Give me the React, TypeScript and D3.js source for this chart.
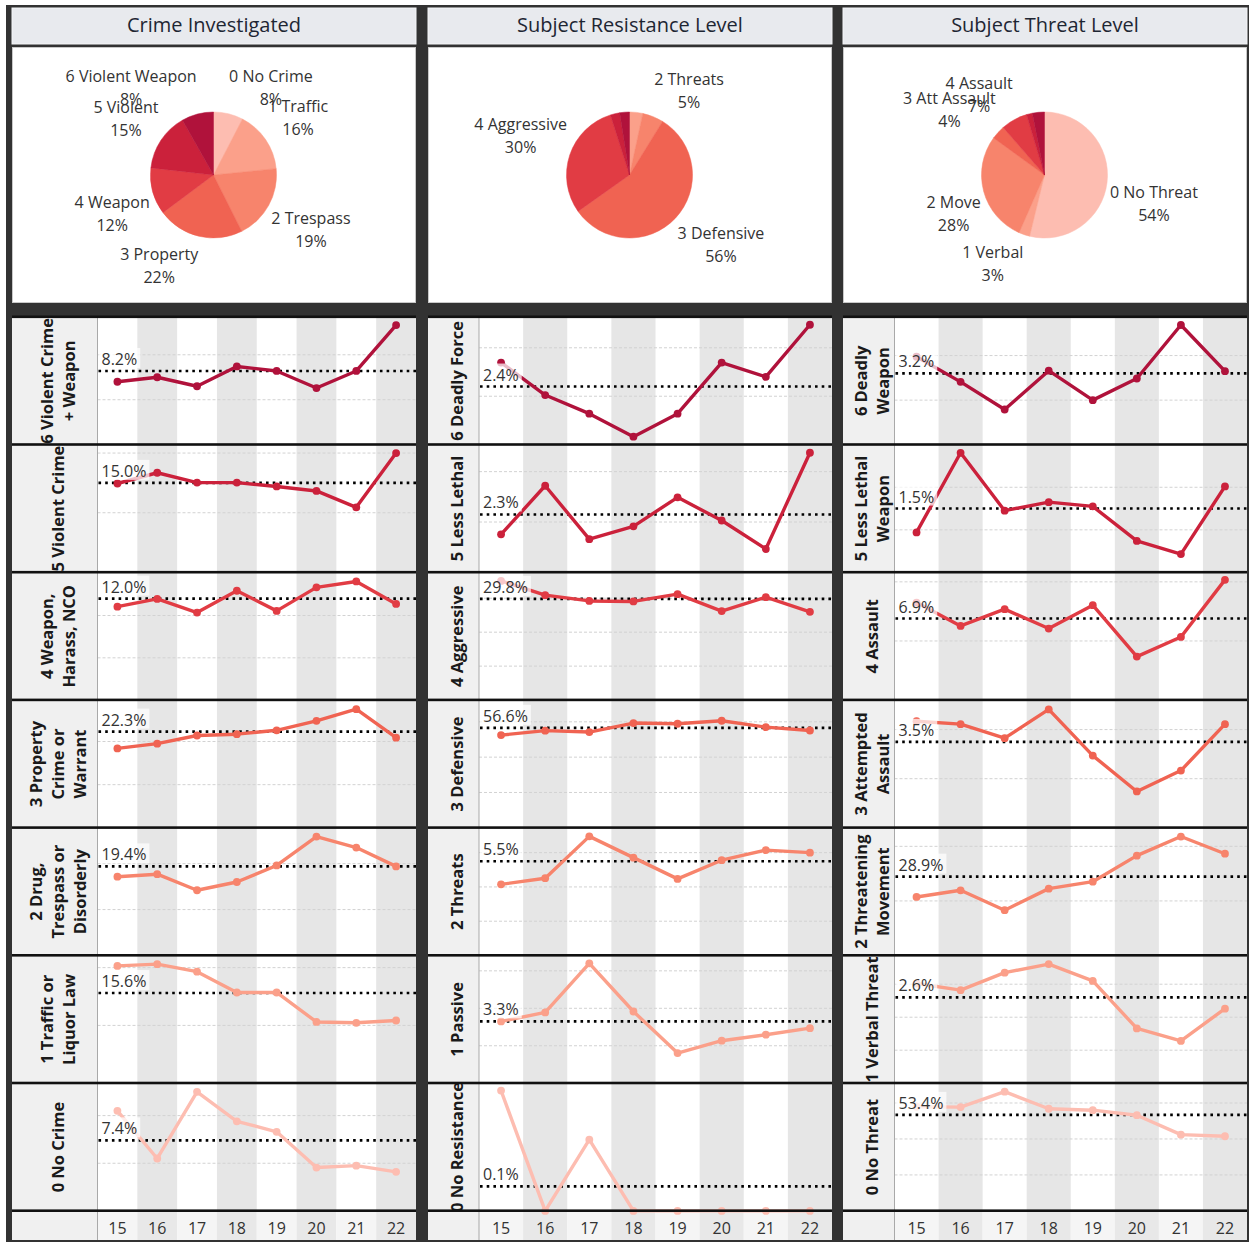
import React, { useMemo } from 'react';
import * as d3 from 'd3';

// ---------------- DATA ----------------
const years = ['15', '16', '17', '18', '19', '20', '21', '22'];
// colour per level 0..6
const levelColors = ['#fdbdb1', '#fba08a', '#f7846c', '#f06352', '#e13c44', '#cb213b', '#b0123b'];

// Column 1 : Crime Investigated
const crimeTitle = 'Crime Investigated';
const crimePieNames = ['0 No Crime', '1 Traffic', '2 Trespass', '3 Property', '4 Weapon', '5 Violent', '6 Violent Weapon'];
const crimePieValues = [7.6, 15.8, 19.2, 22.2, 12.0, 15.0, 8.2];
const crimePieLabeled = [0, 1, 2, 3, 4, 5, 6];
const crimeRowLabels = [
  ['6 Violent Crime', '+ Weapon'],
  ['5 Violent Crime'],
  ['4 Weapon,', 'Harass, NCO'],
  ['3 Property', 'Crime or', 'Warrant'],
  ['2 Drug,', 'Trespass or', 'Disorderly'],
  ['1 Traffic or', 'Liquor Law'],
  ['0 No Crime'],
];
const crimeAverages = [8.2, 15.0, 12.0, 22.3, 19.4, 15.6, 7.4];
const crimeSeries = [
  [7.0, 7.5, 6.5, 8.7, 8.2, 6.3, 8.2, 13.3],
  [14.9, 16.7, 15.05, 15.05, 14.4, 13.65, 10.9, 20.0],
  [11.05, 11.96, 10.35, 12.93, 10.55, 13.33, 14.03, 11.37],
  [18.4, 19.5, 21.4, 21.7, 22.6, 24.8, 27.5, 20.9],
  [17.15, 17.7, 14.2, 16.0, 19.6, 25.9, 23.5, 19.4],
  [20.3, 20.6, 19.3, 15.7, 15.7, 10.6, 10.45, 10.85],
  [10.5, 5.5, 12.5, 9.4, 8.3, 4.55, 4.75, 4.1],
];
const crimeAxisMax = [14.2, 21.4, 15.1, 29.6, 27.8, 22.1, 13.4];
const crimeGridTicks = [[5, 10], [10, 20], [5, 10], [10, 20], [10, 20], [10, 20], [5, 10]];

// Column 2 : Subject Resistance Level
const resistTitle = 'Subject Resistance Level';
const resistPieNames = ['0 No Resistance', '1 Passive', '2 Threats', '3 Defensive', '4 Aggressive', '5 Less Lethal', '6 Deadly Force'];
const resistPieValues = [0.1, 3.3, 5.4, 56.4, 29.9, 2.4, 2.5];
const resistPieLabeled = [2, 3, 4];
const resistRowLabels = [
  ['6 Deadly Force'],
  ['5 Less Lethal'],
  ['4 Aggressive'],
  ['3 Defensive'],
  ['2 Threats'],
  ['1 Passive'],
  ['0 No Resistance'],
];
const resistAverages = [2.4, 2.3, 29.8, 56.6, 5.5, 3.3, 0.1];
const resistSeries = [
  [3.39, 2.05, 1.28, 0.33, 1.28, 3.39, 2.8, 4.95],
  [1.51, 3.44, 1.32, 1.83, 2.98, 2.06, 0.93, 4.75],
  [35.1, 30.9, 29.2, 29.05, 31.2, 26.2, 30.3, 26.0],
  [52.5, 55.0, 54.2, 59.3, 58.9, 60.6, 57.0, 55.1],
  [4.15, 4.51, 6.95, 5.71, 4.47, 5.56, 6.15, 6.0],
  [3.3, 3.78, 6.4, 3.83, 1.61, 2.27, 2.59, 2.94],
  [0.49, 0, 0.29, 0, 0, 0, 0, 0],
];
const resistAxisMax = [5.27, 5.07, 37.6, 72.3, 7.45, 6.82, 0.52];
const resistGridTicks = [[2, 4], [2, 4], [10, 20, 30], [20, 40, 60], [2, 4, 6], [2, 4, 6], []];

// Column 3 : Subject Threat Level
const threatTitle = 'Subject Threat Level';
const threatPieNames = ['0 No Threat', '1 Verbal', '2 Move', '3 Att Assault', '4 Assault', '5 Less Lethal', '6 Deadly'];
const threatPieValues = [53.8, 2.8, 28.4, 3.6, 6.8, 1.5, 3.1];
const threatPieLabeled = [0, 1, 2, 3, 4];
const threatRowLabels = [
  ['6 Deadly', 'Weapon'],
  ['5 Less Lethal', 'Weapon'],
  ['4 Assault'],
  ['3 Attempted', 'Assault'],
  ['2 Threatening', 'Movement'],
  ['1 Verbal Threat'],
  ['0 No Threat'],
];
const threatAverages = [3.2, 1.5, 6.9, 3.5, 28.9, 2.6, 53.4];
const threatSeries = [
  [3.95, 2.82, 1.58, 3.32, 2.0, 2.97, 5.37, 3.3],
  [0.94, 2.81, 1.45, 1.65, 1.55, 0.74, 0.43, 2.02],
  [8.25, 6.27, 7.69, 6.05, 8.03, 3.68, 5.34, 10.17],
  [4.34, 4.22, 3.65, 4.82, 2.94, 1.48, 2.33, 4.22],
  [21.45, 23.9, 16.6, 24.5, 27.05, 36.6, 43.6, 37.3],
  [3.02, 2.82, 3.35, 3.61, 3.1, 1.66, 1.28, 2.26],
  [57.9, 57.7, 66.3, 56.8, 56.0, 53.2, 42.4, 41.5],
];
const threatAxisMax = [5.73, 3.0, 10.8, 5.2, 46.8, 3.87, 71];
const threatGridTicks = [[2, 4], [1, 2], [5, 10], [2, 4], [20, 40], [1, 2, 3], [20, 40, 60]];

// ---------------- LAYOUT ----------------
const W = 1249;
const H = 1242;
const FONT = "'Open Sans', 'Noto Sans', sans-serif";
const colLefts = [12, 428, 843];
const colWidth = 404;
const labelWidths = [85.5, 51, 51.5];
const headerTop = 8;
const headerBottom = 44;
const pieTop = 47;
const pieBottom = 303;
const pieCy = 175;
const pieR = 63;
const rowsTop = 317;
const rowH = 127.7;
const axisBottom = 1240;

type Col = {
  title: string;
  pieNames: string[];
  pieValues: number[];
  pieLabeled: number[];
  rowLabels: string[][];
  averages: number[];
  series: number[][];
  axisMax: number[];
  grid: number[][];
};

const columns: Col[] = [
  { title: crimeTitle, pieNames: crimePieNames, pieValues: crimePieValues, pieLabeled: crimePieLabeled, rowLabels: crimeRowLabels, averages: crimeAverages, series: crimeSeries, axisMax: crimeAxisMax, grid: crimeGridTicks },
  { title: resistTitle, pieNames: resistPieNames, pieValues: resistPieValues, pieLabeled: resistPieLabeled, rowLabels: resistRowLabels, averages: resistAverages, series: resistSeries, axisMax: resistAxisMax, grid: resistGridTicks },
  { title: threatTitle, pieNames: threatPieNames, pieValues: threatPieValues, pieLabeled: threatPieLabeled, rowLabels: threatRowLabels, averages: threatAverages, series: threatSeries, axisMax: threatAxisMax, grid: threatGridTicks },
];

function useMeasure() {
  return useMemo(() => {
    const ctx = document.createElement('canvas').getContext('2d');
    return (t: string, font: string) => {
      if (!ctx) return t.length * 8.5;
      ctx.font = font;
      return ctx.measureText(t).width;
    };
  }, []);
}

function Column({ ci, col, measure }: { ci: number; col: Col; measure: (t: string, f: string) => number }) {
  const x0 = colLefts[ci];
  const x1 = x0 + colWidth;
  const plotLeft = x0 + labelWidths[ci];
  const xb = d3.scaleBand<string>().domain(years).range([plotLeft, x1]).padding(0);
  const bw = xb.bandwidth();
  const cx = x0 + 201.5;
  const pieArcs = d3.pie<number>().sort(null).value((d) => d)(col.pieValues);
  const arcGen = d3.arc<d3.PieArcDatum<number>>().innerRadius(0).outerRadius(pieR);
  const nRows = col.series.length;
  const rowsBottom = rowsTop + nRows * rowH;
  const pieFont = `16px ${FONT}`;

  return (
    <g>
      {/* header */}
      <rect x={x0} y={headerTop} width={colWidth} height={headerBottom - headerTop} fill="#e8eaee" stroke="#f4f5f7" strokeWidth={1} />
      <text x={x0 + colWidth / 2} y={32} textAnchor="middle" fontFamily={FONT} fontSize={20} fill="#1e2633">
        {col.title}
      </text>

      {/* pie panel */}
      <rect x={x0 + 0.5} y={pieTop + 0.5} width={colWidth - 1} height={pieBottom - pieTop - 1} fill="#ffffff" stroke="#c8c8c8" strokeWidth={1} />
      <g transform={`translate(${cx},${pieCy})`}>
        {pieArcs.map((a, k) => (
          <path key={k} d={arcGen(a) || ''} fill={levelColors[k]} stroke={levelColors[k]} strokeWidth={0.5} />
        ))}
      </g>
      {pieArcs.map((a, k) => {
        if (!col.pieLabeled.includes(k)) return null;
        const th = (a.startAngle + a.endAngle) / 2;
        const s = Math.sin(th);
        const c = Math.cos(th);
        const lines = [col.pieNames[k], `${Math.round(col.pieValues[k])}%`];
        const w = Math.max(...lines.map((l) => measure(l, pieFont)));
        const xEdge = cx + (pieR + 3) * s;
        const bx = s >= 0 ? xEdge + w / 2 : xEdge - w / 2;
        const ay = pieCy - (pieR + 10) * c;
        const bl = c > 0 ? [ay - 22, ay + 1] : [ay + 14, ay + 37];
        return (
          <g key={`pl${k}`}>
            {lines.map((l, j) => (
              <text key={j} x={bx} y={bl[j]} textAnchor="middle" fontFamily={FONT} fontSize={16} fill="#333333">
                {l}
              </text>
            ))}
          </g>
        );
      })}

      {/* rows area background */}
      <rect x={x0} y={rowsTop - 1} width={colWidth} height={axisBottom - rowsTop + 1} fill="#ffffff" />
      <rect x={x0} y={rowsTop - 1} width={plotLeft - x0} height={axisBottom - rowsTop + 1} fill="#f0f0f0" />
      {years.map((yr, j) => (
        <g key={`band${yr}`}>
          {j % 2 === 1 && <rect x={xb(yr)} y={rowsTop} width={bw} height={rowsBottom - rowsTop} fill="#e6e6e6" />}
          <rect x={xb(yr)} y={rowsBottom} width={bw} height={axisBottom - rowsBottom} fill={j % 2 === 1 ? '#e8e8e8' : '#f5f5f5'} />
          <text x={(xb(yr) || 0) + bw / 2} y={1234} textAnchor="middle" fontFamily={FONT} fontSize={16} fill="#333333">
            {yr}
          </text>
        </g>
      ))}

      {col.series.map((vals, i) => {
        const top = rowsTop + i * rowH;
        const bottom = top + rowH;
        const level = nRows - 1 - i;
        const color = levelColors[level];
        const y = d3.scaleLinear().domain([0, col.axisMax[i]]).range([bottom, top]);
        const line = d3
          .line<number>()
          .x((_, j) => (xb(years[j]) || 0) + bw / 2)
          .y((d) => y(d));
        const avgY = y(col.averages[i]);
        const lbl = `${col.averages[i].toFixed(1)}%`;
        const lw = measure(lbl, `16px ${FONT}`);
        const clipId = `clip-${ci}-${i}`;
        const labelCx = (x0 + plotLeft) / 2 + 2.5;
        const labelCy = top + rowH / 2;
        const n = col.rowLabels[i].length;
        return (
          <g key={`row${i}`}>
            {col.grid[i].map((t) => (
              <line key={t} x1={plotLeft} x2={x1} y1={y(t)} y2={y(t)} stroke="#d2d2d2" strokeWidth={1} strokeDasharray="3 2" />
            ))}
            <line x1={plotLeft + 1} x2={x1} y1={avgY} y2={avgY} stroke="#000000" strokeWidth={2.6} strokeDasharray="2.6 4.1" />
            <path d={line(vals) || ''} fill="none" stroke={color} strokeWidth={3.4} strokeLinejoin="round" strokeLinecap="round" />
            {vals.map((v, j) => (
              <circle key={j} cx={(xb(years[j]) || 0) + bw / 2} cy={y(v)} r={3.9} fill={color} />
            ))}
            <rect x={plotLeft + 1} y={avgY - 23} width={lw + 6} height={20} fill="#ffffff" fillOpacity={0.72} />
            <text x={plotLeft + 4} y={avgY - 6} fontFamily={FONT} fontSize={16} fill="#333333">
              {lbl}
            </text>
            <clipPath id={clipId}>
              <rect x={x0} y={top} width={plotLeft - x0} height={rowH} />
            </clipPath>
            <g clipPath={`url(#${clipId})`}>
              <g transform={`translate(${labelCx},${labelCy}) rotate(-90)`}>
                {col.rowLabels[i].map((l, j) => (
                  <text
                    key={j}
                    x={0}
                    y={(j - (n - 1) / 2) * 22}
                    dominantBaseline="central"
                    textAnchor="middle"
                    fontFamily={FONT}
                    fontWeight="bold"
                    fontSize={16.5}
                    fill="#1a1a1a"
                  >
                    {l}
                  </text>
                ))}
              </g>
            </g>
          </g>
        );
      })}

      {/* separators */}
      <line x1={plotLeft} x2={plotLeft} y1={rowsTop} y2={axisBottom} stroke="#a9a9a9" strokeWidth={1} />
      {d3.range(nRows + 1).map((i) => (
        <rect key={`sep${i}`} x={x0} y={rowsTop + i * rowH - 1.5} width={colWidth} height={2.6} fill="#111111" />
      ))}
    </g>
  );
}

export default function App() {
  const measure = useMeasure();
  return (
    <div style={{ position: 'absolute', left: 0, top: 0 }}>
      <svg width={W} height={H} style={{ display: 'block' }}>
        <rect x={0} y={0} width={W} height={H} fill="#ffffff" />
        <rect x={6} y={5} width={W - 6} height={H - 5} fill="#323232" />
        {columns.map((col, ci) => (
          <Column key={ci} ci={ci} col={col} measure={measure} />
        ))}
      </svg>
    </div>
  );
}
